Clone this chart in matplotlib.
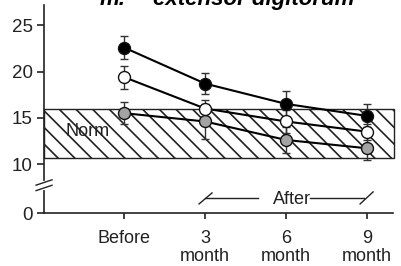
import matplotlib
matplotlib.use('Agg')
import matplotlib.pyplot as plt
from matplotlib.patches import Rectangle
from matplotlib.transforms import ScaledTranslation

plt.rcParams['font.family'] = ['Liberation Sans', 'DejaVu Sans']
plt.rcParams['hatch.linewidth'] = 1.2

# data
time_labels = ['Before', '3\nmonth', '6\nmonth', '9\nmonth']
x_pos = [0, 1, 2, 3]

black_mean = [22.6, 18.7, 16.5, 15.2]
black_err = [1.2, 1.1, 1.45, 1.25]
open_mean = [19.4, 16.0, 14.6, 13.5]
open_err = [1.25, 0.9, 1.2, 0.85]
gray_mean = [15.5, 14.6, 12.6, 11.7]
gray_err = [1.2, 1.9, 1.4, 1.3]

norm_low = 10.7
norm_high = 15.9

# broken axis: value 0 is drawn at y=4.7
zero_pos = 4.7
y_ticks = [zero_pos, 10, 15, 20, 25]
y_ticklabels = ['0', '10', '15', '20', '25']

fig = plt.figure(figsize=(4.02, 2.66), dpi=100)
ax = fig.add_axes([44 / 402, 53 / 266, 349 / 402, 208 / 266])

ax.set_xlim(-0.988, 3.32)
ax.set_ylim(zero_pos, 27.2)

# norm band
band = Rectangle((-0.988, norm_low), 3.33 + 0.988, norm_high - norm_low,
                 facecolor='white', edgecolor='#222222', hatch='\\\\',
                 linewidth=1.0, zorder=1, clip_on=False)
ax.add_patch(band)
ax.text(-0.45, 13.55, 'Norm', fontsize=13, ha='center', va='center',
        color='#222222', zorder=2)

for mean, err, face in [(gray_mean, gray_err, '#a3a3a3'),
                        (open_mean, open_err, 'white'),
                        (black_mean, black_err, 'black')]:
    ax.errorbar(x_pos, mean, yerr=err, fmt='-o', color='black', lw=1.5,
                ecolor='#333333', elinewidth=1.0, capsize=3, capthick=1.0,
                markersize=8.6, markerfacecolor=face, markeredgecolor='#111111',
                markeredgewidth=1.0, zorder=4)

ax.set_yticks(y_ticks)
ax.set_yticklabels(y_ticklabels, fontsize=13.5)
ax.set_xticks(x_pos)
ax.set_xticklabels(time_labels, fontsize=13, linespacing=1.1, va='top')
lab = ax.get_xticklabels()[2]
lab.set_transform(lab.get_transform() + ScaledTranslation(0, -3 / 100, fig.dpi_scale_trans))

ax.tick_params(axis='y', direction='out', length=5, width=1.2, pad=3, colors='#222222')
ax.tick_params(axis='x', direction='out', length=4, width=1.2, pad=8, colors='#222222')

for s in ['top', 'right']:
    ax.spines[s].set_visible(False)
for s in ['left', 'bottom']:
    ax.spines[s].set_linewidth(1.2)
    ax.spines[s].set_color('#222222')

# axis break marks
ax.plot([-0.988, -0.988], [7.45, 7.95], color='white', lw=3, zorder=5, clip_on=False)
for yb in [8.0, 7.41]:
    ax.plot([-1.086, -0.889], [yb - 0.29, yb + 0.29], color='#222222', lw=1.0,
            zorder=6, clip_on=False)

# "After" annotation
ax.text(2.07, 6.15, 'After', fontsize=13, ha='center', va='center', color='#222222')
ax.plot([1.0, 1.654], [6.36, 6.36], color='#222222', lw=1.0, clip_on=False)
ax.plot([2.296, 2.963], [6.36, 6.36], color='#222222', lw=1.0, clip_on=False)
ax.plot([0.926, 1.086], [5.68, 6.87], color='#222222', lw=1.0, clip_on=False)
ax.plot([2.914, 3.074], [5.68, 6.98], color='#222222', lw=1.0, clip_on=False)

# title, cut by the top edge as in the source figure
fig.text(100 / 402, 1 - 5 / 266, 'm.', fontsize=16, fontweight='bold',
         fontstyle='italic', ha='left', va='baseline')
fig.text(153 / 402, 1 - 5 / 266, 'extensor digitorum', fontsize=16,
         fontweight='bold', fontstyle='italic', ha='left', va='baseline')

fig.savefig('out.png', dpi=100)
